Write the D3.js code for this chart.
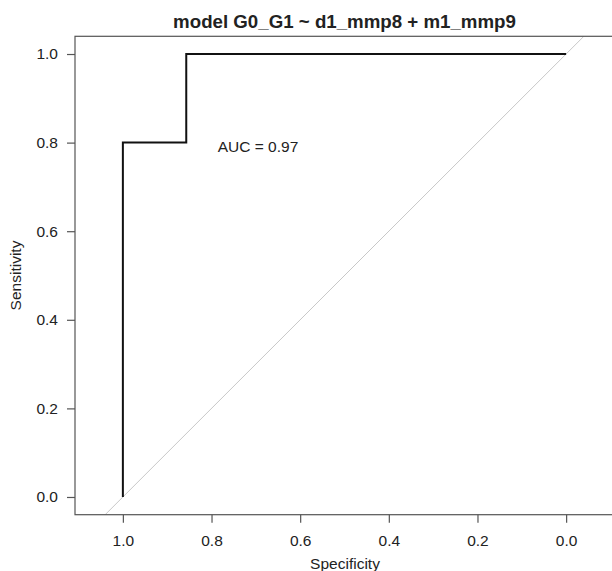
<!DOCTYPE html>
<html>
<head>
<meta charset="utf-8">
<script src="https://cdn.jsdelivr.net/npm/d3@7"></script>
<style>
  body { margin: 0; background: #fff; }
  text { font-family: "Liberation Sans", Arial, sans-serif; fill: #222; }
</style>
</head>
<body>
<svg id="chart" width="612" height="571"></svg>
<script>
// ROC curve points (specificity, sensitivity)
const specificity = [1.0, 1.0, 0.857, 0.857, 0.0];
const sensitivity = [0.0, 0.8, 0.8, 1.0, 1.0];
const tickValues = [0.0, 0.2, 0.4, 0.6, 0.8, 1.0];
const aucLabel = 'AUC = 0.97';
const title = 'model G0_G1 ~ d1_mmp8 + m1_mmp9';

const svg = d3.select('#chart');

// plot region (R style, asp = 1, so x range is wider than data)
const box = { left: 75, right: 614, top: 36.3, bottom: 514.7 };

const x = d3.scaleLinear().domain([1.108, -0.108]).range([box.left, box.right]);
const y = d3.scaleLinear().domain([-0.04, 1.04]).range([box.bottom, box.top]);

svg.append('clipPath').attr('id', 'clip')
  .append('rect')
  .attr('x', box.left).attr('y', box.top)
  .attr('width', box.right - box.left).attr('height', box.bottom - box.top);

// chance diagonal
svg.append('line')
  .attr('clip-path', 'url(#clip)')
  .attr('x1', x(1.04)).attr('y1', y(-0.04))
  .attr('x2', x(-0.04)).attr('y2', y(1.04))
  .attr('stroke', '#c8c8c8')
  .attr('stroke-width', 1);

// ROC curve
const pts = specificity.map((s, i) => [s, sensitivity[i]]);
svg.append('path')
  .datum(pts)
  .attr('d', d3.line().x(d => x(d[0])).y(d => y(d[1])))
  .attr('fill', 'none')
  .attr('stroke', '#111')
  .attr('stroke-width', 2);

// box
svg.append('rect')
  .attr('x', box.left).attr('y', box.top)
  .attr('width', box.right - box.left).attr('height', box.bottom - box.top)
  .attr('fill', 'none')
  .attr('stroke', '#555')
  .attr('stroke-width', 1.2);

// axes
const fmt = d3.format('.1f');
const yAxis = svg.append('g')
  .attr('transform', `translate(${box.left},0)`)
  .call(d3.axisLeft(y).tickValues(tickValues).tickFormat(fmt).tickSize(8).tickPadding(9));
const xAxis = svg.append('g')
  .attr('transform', `translate(0,${box.bottom})`)
  .call(d3.axisBottom(x).tickValues(tickValues).tickFormat(fmt).tickSize(8).tickPadding(12));
[xAxis, yAxis].forEach(g => {
  g.select('.domain').remove();
  g.selectAll('.tick line').attr('stroke', '#555').attr('stroke-width', 1.2);
  g.selectAll('.tick text').attr('font-size', 15.5).attr('fill', '#333')
    .attr('font-family', '"Liberation Sans", Arial, sans-serif');
});

// labels
svg.append('text')
  .attr('x', (box.left + box.right) / 2).attr('y', 28)
  .attr('text-anchor', 'middle')
  .attr('font-size', 18.7).attr('font-weight', 'bold')
  .text(title);

svg.append('text')
  .attr('x', 345).attr('y', 569)
  .attr('text-anchor', 'middle')
  .attr('font-size', 15.5).attr('fill', '#333')
  .text('Specificity');

svg.append('text')
  .attr('transform', `translate(21,${(box.top + box.bottom) / 2}) rotate(-90)`)
  .attr('text-anchor', 'middle')
  .attr('font-size', 15.5).attr('fill', '#333')
  .text('Sensitivity');

svg.append('text')
  .attr('x', x(0.786)).attr('y', y(0.79))
  .attr('dy', '0.35em')
  .attr('font-size', 15.5).attr('fill', '#333')
  .text(aucLabel);
</script>
</body>
</html>
